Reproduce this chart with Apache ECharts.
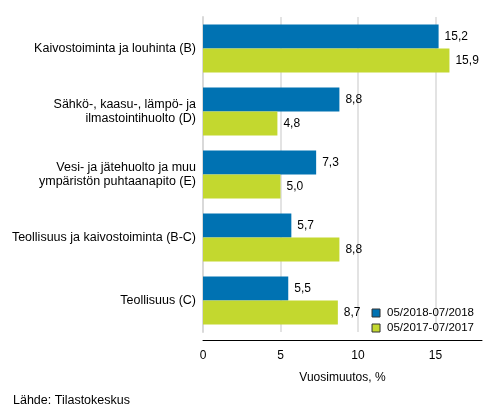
<!DOCTYPE html>
<html>
<head>
<meta charset="utf-8">
<script src="https://cdn.jsdelivr.net/npm/echarts@6/dist/echarts.min.js"></script>
<style>
  html, body { margin: 0; padding: 0; background: #fff; }
  #chart { width: 493px; height: 416px; }
</style>
</head>
<body>
<div id="chart"></div>
<script>
var categories = [
  'Kaivostoiminta ja louhinta (B)',
  'Sähkö-, kaasu-, lämpö- ja\nilmastointihuolto (D)',
  'Vesi- ja jätehuolto ja muu\nympäristön puhtaanapito (E)',
  'Teollisuus ja kaivostoiminta (B-C)',
  'Teollisuus (C)'
];
var seriesNames = ['05/2018-07/2018', '05/2017-07/2017'];
var recent = [15.2, 8.8, 7.3, 5.7, 5.5];
var previous = [15.9, 4.8, 5.0, 8.8, 8.7];
var xTicks = [0, 5, 10, 15];

var font = 'Liberation Sans, Arial, sans-serif';
var colors = ['#0072b2', '#c3d82f'];

var chart = echarts.init(document.getElementById('chart'));

function valueLabel(p) {
  return String(p.value.toFixed(1)).replace('.', ',');
}

function barSeries(name, data, color) {
  return {
    name: name,
    type: 'bar',
    data: data,
    barWidth: 24,
    barGap: '0%',
    itemStyle: { color: color },
    label: {
      show: true,
      position: 'right',
      distance: 6,
      color: '#000',
      fontFamily: font,
      fontSize: 12,
      formatter: valueLabel
    }
  };
}

var option = {
  animation: false,
  grid: { left: 203, right: 11, top: 17, bottom: 84 },
  legend: {
    orient: 'vertical',
    right: 14,
    top: 302,
    itemWidth: 8,
    itemHeight: 8,
    itemGap: 3,
    icon: 'rect',
    textStyle: { fontFamily: font, fontSize: 11.5, color: '#000', padding: [0, 0, 0, 2] },
    itemStyle: { borderColor: '#333', borderWidth: 1 },
    data: seriesNames
  },
  xAxis: {
    type: 'value',
    min: 0,
    max: 18,
    interval: 5,
    offset: 8,
    name: 'Vuosimuutos, %',
    nameLocation: 'middle',
    nameGap: 32,
    nameTextStyle: { fontFamily: font, fontSize: 12, color: '#000' },
    axisLine: { show: true, lineStyle: { color: '#000', width: 1 } },
    axisTick: { show: false },
    axisLabel: {
      fontFamily: font, fontSize: 12, color: '#000', margin: 10,
      showMaxLabel: false,
      formatter: function (v) { return xTicks.indexOf(v) >= 0 ? String(v) : ''; }
    },
    splitLine: {
      show: true,
      lineStyle: { color: ['#e3e3e3', '#e3e3e3', '#e3e3e3', '#e3e3e3', 'rgba(0,0,0,0)'], width: 2 }
    }
  },
  yAxis: {
    type: 'category',
    inverse: true,
    data: categories,
    axisLine: { show: true, lineStyle: { color: '#d9d9d9', width: 2 } },
    axisTick: { show: false },
    axisLabel: {
      fontFamily: font, fontSize: 12.5, color: '#000', margin: 7,
      lineHeight: 13.5, align: 'right'
    }
  },
  series: [
    barSeries(seriesNames[0], recent, colors[0]),
    barSeries(seriesNames[1], previous, colors[1])
  ],
  graphic: [{
    type: 'text',
    left: 13,
    top: 394,
    style: { text: 'Lähde: Tilastokeskus', fontFamily: font, fontSize: 12.5, fill: '#000' }
  }]
};

chart.setOption(option);
</script>
</body>
</html>
